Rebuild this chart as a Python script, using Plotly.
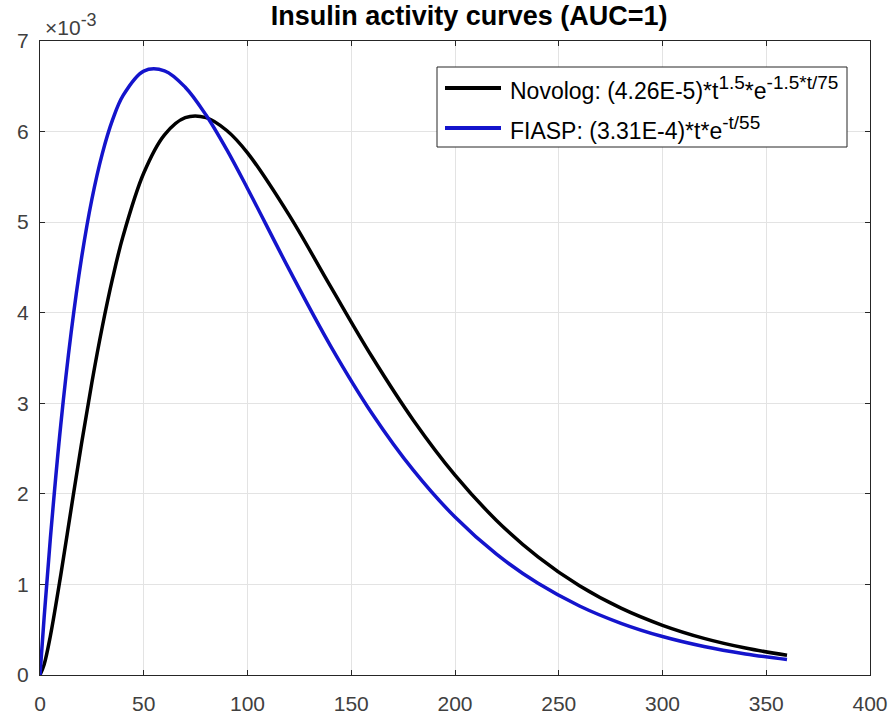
import plotly.graph_objects as go

# time (minutes)
t_min = [0, 2, 5, 10, 15, 20, 25, 30, 35, 40, 50, 60, 70, 80, 90, 100, 120, 140,
         160, 180, 200, 220, 240, 260, 280, 300, 320, 340, 360]
# activity, in units of 1e-3
novolog = [0.0, 0.116, 0.431, 1.103, 1.833, 2.554, 3.230, 3.842, 4.381, 4.843, 5.542,
           5.964, 6.153, 6.154, 6.012, 5.765, 5.080, 4.291, 3.514, 2.811, 2.207, 1.707,
           1.304, 0.985, 0.738, 0.549, 0.405, 0.298, 0.217]
fiasp = [0.0, 0.638, 1.511, 2.760, 3.780, 4.602, 5.253, 5.754, 6.131, 6.397, 6.668,
         6.671, 6.490, 6.183, 5.800, 5.372, 4.481, 3.635, 2.888, 2.259, 1.744, 1.334,
         1.012, 0.762, 0.571, 0.425, 0.315, 0.233, 0.171]

x_ticks = [0, 50, 100, 150, 200, 250, 300, 350, 400]
y_ticks = [0, 1, 2, 3, 4, 5, 6, 7]

SUP = '<sup><span style="font-size:19px">{}</span></sup>'
name_novolog = "Novolog: (4.26E-5)*t" + SUP.format("1.5") + "*e" + SUP.format("-1.5*t/75")
name_fiasp = "FIASP: (3.31E-4)*t*e" + SUP.format("-t/55")
names = [name_novolog, name_fiasp]
colors = ["#000000", "#1414cc"]

FONT = "Liberation Sans, Arial, Helvetica"

# figure geometry (pixels)
W, H = 892, 716
ML, MR, MT, MB = 40, 22, 41, 41
PW, PH = W - ML - MR, H - MT - MB


def px(xp):
    return (xp - ML) / PW


def py(yp):
    return (H - MB - yp) / PH


fig = go.Figure()
for nm, ys, col in zip(names, [novolog, fiasp], colors):
    fig.add_trace(go.Scatter(x=t_min, y=ys, mode="lines", name=nm, showlegend=False,
                             line=dict(color=col, width=3.5, shape="spline")))

axis_common = dict(showline=True, linecolor="#262626", linewidth=1, mirror="ticks",
                   ticks="inside", ticklen=5, tickcolor="#262626", automargin=False,
                   showgrid=True, gridcolor="#e3e3e3", gridwidth=1, zeroline=False,
                   tickfont=dict(family=FONT, size=21, color="#404040"))

# legend box drawn in paper coordinates
shapes = [dict(type="rect", xref="paper", yref="paper",
               x0=px(437), x1=px(847), y0=py(147), y1=py(67),
               line=dict(color="#262626", width=1), fillcolor="white", layer="above")]
annotations = []
row_line_y = [88, 128]
row_text_y = [92, 131.5]
for nm, col, ly, ty in zip(names, colors, row_line_y, row_text_y):
    shapes.append(dict(type="line", xref="paper", yref="paper",
                       x0=px(445), x1=px(501), y0=py(ly), y1=py(ly),
                       line=dict(color=col, width=4), layer="above"))
    annotations.append(dict(text=nm, xref="paper", yref="paper", x=px(508), y=py(ty),
                            xanchor="left", yanchor="middle", showarrow=False, yshift=4,
                            font=dict(family=FONT, size=23, color="#000000")))

annotations.append(dict(text="\u00d710" + '<sup><span style="font-size:18px">-3</span></sup>',
                        xref="paper", yref="paper", x=0, y=1,
                        xanchor="left", yanchor="bottom", xshift=3, yshift=0, showarrow=False,
                        font=dict(family=FONT, size=21, color="#404040")))

fig.update_layout(
    width=W, height=H,
    margin=dict(l=ML, r=MR, t=MT, b=MB),
    paper_bgcolor="white", plot_bgcolor="white",
    title=dict(text="<b>Insulin activity curves (AUC=1)</b>", x=0.526, xanchor="center",
               xref="container", yref="container",
               y=1 - 16 / H, yanchor="middle",
               font=dict(family=FONT, size=27, color="#000000")),
    xaxis=dict(range=[0, 400], tickvals=x_ticks, ticklabelstandoff=10, **axis_common),
    yaxis=dict(range=[0, 7], tickvals=y_ticks, ticklabelstandoff=6, **axis_common),
    showlegend=False,
    shapes=shapes,
    annotations=annotations,
)

fig.write_html("out.html", config={"displayModeBar": False},
               post_script="document.body.style.margin='0px';")
